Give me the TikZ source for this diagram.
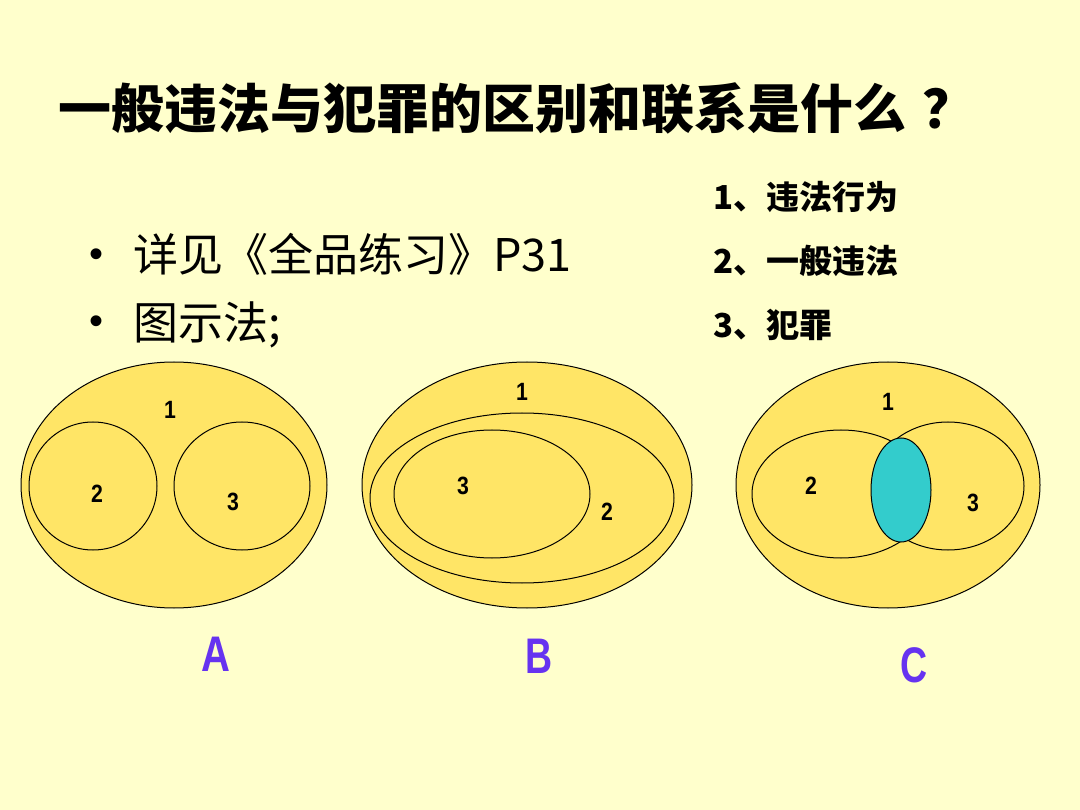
\documentclass[tikz,border=0pt]{standalone}
\usepackage{fontspec}
\setmainfont{Liberation Sans}
\newfontfamily\cjk{Noto Sans CJK SC}
\usepackage{graphicx}
\usepackage{xcolor}
\usetikzlibrary{positioning}
\definecolor{slidebg}{HTML}{FFFFCC}
\definecolor{setfill}{HTML}{FFE566}
\definecolor{overlap}{HTML}{33CCCC}
\definecolor{tagcol}{HTML}{6633F0}
\tikzset{
  setline/.style={draw=black, line width=1pt},
  outerset/.style={setline, fill=setfill},
  numlbl/.style={font=\fontsize{25}{25}\selectfont\bfseries, inner sep=0pt},
  tag/.style={font=\fontsize{50}{50}\selectfont\bfseries, text=tagcol, inner sep=0pt},
  titletxt/.style={font=\cjk\bfseries\fontsize{53}{53}\selectfont, anchor=base west, inner sep=0pt},
  bullettxt/.style={font=\cjk\fontsize{45}{45}\selectfont, anchor=base west, inner sep=0pt},
  listtxt/.style={font=\cjk\bfseries\fontsize{33}{33}\selectfont, anchor=base west, inner sep=0pt},
}
\begin{document}
\begin{tikzpicture}[x=1pt, y=-1pt]
% slide background
\fill[slidebg] (0,0) rectangle (1080,810);
\useasboundingbox (0,0) rectangle (1080,810);
% title
\node[titletxt] (title) at (58,129) {一般违法与犯罪的区别和联系是什么\hspace{16pt}？};
% bullets
\node[font=\fontsize{40}{40}\selectfont, inner sep=0pt] (dot1) at (97,258) {•};
\node[bullettxt] (see) at (133,272) {详见《全品练习》P31};
\node[font=\fontsize{40}{40}\selectfont, inner sep=0pt] (dot2) at (97,325) {•};
\node[bullettxt] (method) at (133,340) {图示法;};
% legend on the right
\node[listtxt] (item1) at (713,210) {1、违法行为};
\node[listtxt] (item2) at (713,274) {2、一般违法};
\node[listtxt] (item3) at (713,338) {3、犯罪};
% diagram A: 2 and 3 apart inside 1
\draw[outerset] (174,485) ellipse [x radius=153pt, y radius=123pt];
\draw[setline] (93,486) ellipse [x radius=64pt, y radius=64pt];
\draw[setline] (242,486) ellipse [x radius=68pt, y radius=64pt];
\node[numlbl] (a1) at (170,410) {\scalebox{0.85}[1]{1}};
\node[numlbl] (a2) at (97,494) {\scalebox{0.85}[1]{2}};
\node[numlbl] (a3) at (233,502) {\scalebox{0.85}[1]{3}};
% diagram B: 3 inside 2 inside 1
\draw[outerset] (527,485) ellipse [x radius=165pt, y radius=123pt];
\draw[setline] (522,498) ellipse [x radius=152pt, y radius=85pt];
\draw[setline] (492,494) ellipse [x radius=98pt, y radius=64pt];
\node[numlbl] (b1) at (522,392) {\scalebox{0.85}[1]{1}};
\node[numlbl] (b3) at (463,486) {\scalebox{0.85}[1]{3}};
\node[numlbl] (b2) at (607,512) {\scalebox{0.85}[1]{2}};
% diagram C: 2 and 3 overlap inside 1
\draw[outerset] (888,485) ellipse [x radius=152pt, y radius=123pt];
\draw[setline] (841,494) ellipse [x radius=89pt, y radius=64pt];
\draw[setline] (948,486) ellipse [x radius=76pt, y radius=64pt];
\draw[setline, fill=overlap] (901,490) ellipse [x radius=30pt, y radius=52pt];
\node[numlbl] (c1) at (888,402) {\scalebox{0.85}[1]{1}};
\node[numlbl] (c2) at (811,486) {\scalebox{0.85}[1]{2}};
\node[numlbl] (c3) at (973,503) {\scalebox{0.85}[1]{3}};
% tags
\node[tag] (tagA) at (216,654) {\scalebox{0.8}[1]{A}};
\node[tag] (tagB) at (539,656) {\scalebox{0.75}[1]{B}};
\node[tag] (tagC) at (914,665) {\scalebox{0.75}[1]{C}};
\end{tikzpicture}
\end{document}
